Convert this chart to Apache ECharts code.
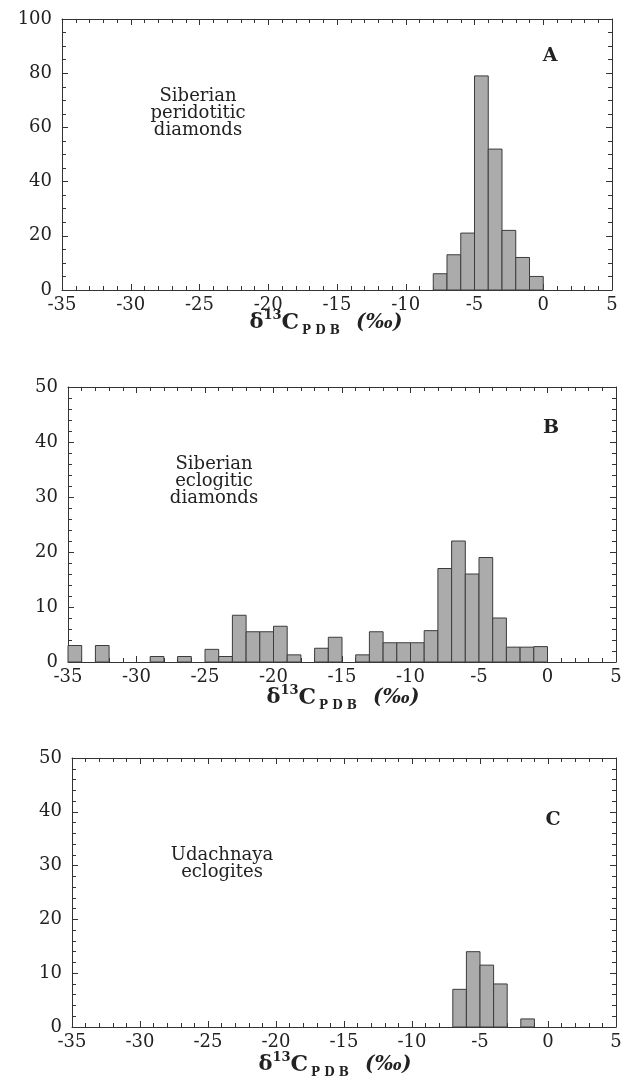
<!DOCTYPE html>
<html>
<head>
<meta charset="utf-8">
<script src="https://cdn.jsdelivr.net/npm/echarts@6/dist/echarts.min.js"></script>
<style>
    html, body { margin: 0; padding: 0; background: #fff; }
    #chart { width: 627px; height: 1077px; }
</style>
</head>
<body>
<div id="chart"></div>
<script>
    // 1 permil bins: left edge of each bin and its count
    const edgesA = [-8, -7, -6, -5, -4, -3, -2, -1];
    const countsA = [6, 13, 21, 79, 52, 22, 12, 5];

    const edgesB = [-35, -34, -33, -32, -31, -30, -29, -28, -27, -26, -25, -24, -23, -22, -21, -20, -19, -18,
        -17, -16, -15, -14, -13, -12, -11, -10, -9, -8, -7, -6, -5, -4, -3, -2, -1];
    const countsB = [3, 0, 3, 0, 0, 0, 1, 0, 1, 0, 2.3, 1, 8.5, 5.5, 5.5, 6.5, 1.3, 0,
        2.5, 4.5, 0, 1.3, 5.5, 3.5, 3.5, 3.5, 5.7, 17, 22, 16, 19, 8, 2.7, 2.7, 2.8];

    const edgesC = [-7, -6, -5, -4, -2];
    const countsC = [7, 14, 11.5, 8, 1.5];

    const xMin = -35, xMax = 5, xStep = 5;
    const panelLetters = ['A', 'B', 'C'];
    const panelNotes = ['Siberian\nperidotitic\ndiamonds', 'Siberian\neclogitic\ndiamonds', 'Udachnaya\neclogites'];
    const yMaxes = [100, 50, 50];
    const ySteps = [20, 10, 10];
    const yMinorSplits = [4, 5, 5];

    const serif = 'DejaVu Serif';
    const ink = '#222';

    // pixel layout of the three frames
    const grids = [
        {left: 62, top: 19, width: 550, height: 271},
        {left: 68, top: 387, width: 548, height: 275},
        {left: 72, top: 758, width: 544, height: 269}
    ];
    const letterPos = [[550, 56], [551, 428], [553, 820]];
    const notePos = [[198, 113], [214, 481], [222, 864]];
    const namePos = [[326, 323], [343, 698], [335, 1065]];

    function binData(edges, counts) {
        const out = [];
        edges.forEach((e, i) => {
            if (counts[i] > 0) out.push([e, e + 1, counts[i]]);
        });
        return out;
    }
    const panels = [binData(edgesA, countsA), binData(edgesB, countsB), binData(edgesC, countsC)];

    function renderBin(params, api) {
        const p0 = api.coord([api.value(0), 0]);
        const p1 = api.coord([api.value(1), api.value(2)]);
        return {
            type: 'rect',
            shape: {x: p0[0], y: p1[1], width: p1[0] - p0[0], height: p0[1] - p1[1]},
            style: {fill: '#ababab', stroke: '#3c3c3c', lineWidth: 1}
        };
    }

    const lineStyle = {color: '#333', width: 1};
    const xAxes = [], yAxes = [], series = [], graphics = [];

    grids.forEach((g, i) => {
        ['bottom', 'top'].forEach(pos => {
            xAxes.push({
                type: 'value', gridIndex: i, position: pos,
                min: xMin, max: xMax, interval: xStep,
                axisLine: {show: true, onZero: false, lineStyle: lineStyle},
                axisTick: {show: true, inside: true, length: 6, lineStyle: lineStyle},
                minorTick: {show: true, splitNumber: 5, length: 4, lineStyle: lineStyle},
                splitLine: {show: false},
                axisLabel: {
                    show: pos === 'bottom', margin: 6,
                    fontFamily: serif, fontSize: 18, color: ink
                }
            });
        });
        ['left', 'right'].forEach(pos => {
            yAxes.push({
                type: 'value', gridIndex: i, position: pos,
                min: 0, max: yMaxes[i], interval: ySteps[i],
                axisLine: {show: true, onZero: false, lineStyle: lineStyle},
                axisTick: {show: true, inside: true, length: 6, lineStyle: lineStyle},
                minorTick: {show: true, splitNumber: yMinorSplits[i], length: 4, lineStyle: lineStyle},
                splitLine: {show: false},
                axisLabel: {
                    show: pos === 'left', margin: 10,
                    fontFamily: serif, fontSize: 18, color: ink
                }
            });
        });
        series.push({
            type: 'custom',
            xAxisIndex: 2 * i,
            yAxisIndex: 2 * i,
            renderItem: renderBin,
            encode: {x: [0, 1], y: 2},
            data: panels[i]
        });

        graphics.push({
            type: 'text',
            style: {
                text: panelLetters[i], x: letterPos[i][0], y: letterPos[i][1],
                align: 'center', verticalAlign: 'middle', textAlign: 'center', textVerticalAlign: 'middle',
                fontFamily: serif, fontSize: 19, fontWeight: 'bold', fill: ink
            }
        });
        graphics.push({
            type: 'text',
            style: {
                text: panelNotes[i], x: notePos[i][0], y: notePos[i][1],
                align: 'center', verticalAlign: 'middle', textAlign: 'center', textVerticalAlign: 'middle',
                fontFamily: serif, fontSize: 18, lineHeight: 17, fill: ink
            }
        });
        graphics.push({
            type: 'text',
            style: {
                text: '{d|δ}{s|13}{c|C}{b|P D B}{u|(‰)}',
                x: namePos[i][0], y: namePos[i][1],
                align: 'center', verticalAlign: 'middle', textAlign: 'center', textVerticalAlign: 'middle',
                fontFamily: serif, fill: ink,
                rich: {
                    d: {fontFamily: serif, fontSize: 21, fontWeight: 'bold', lineHeight: 28},
                    s: {fontFamily: serif, fontSize: 13, fontWeight: 'bold', lineHeight: 28, verticalAlign: 'top'},
                    c: {fontFamily: serif, fontSize: 22, fontWeight: 'bold', lineHeight: 28, padding: [0, 3, 0, 0]},
                    b: {fontFamily: serif, fontSize: 12, fontWeight: 'bold', lineHeight: 28, verticalAlign: 'bottom'},
                    u: {fontFamily: serif, fontSize: 20, fontWeight: 'bold', fontStyle: 'italic', lineHeight: 28, padding: [0, 0, 0, 16]}
                }
            }
        });
    });

    const chart = echarts.init(document.getElementById('chart'));
    chart.setOption({
        animation: false,
        backgroundColor: '#fff',
        grid: grids,
        xAxis: xAxes,
        yAxis: yAxes,
        series: series,
        graphic: {elements: graphics}
    });
</script>
</body>
</html>
